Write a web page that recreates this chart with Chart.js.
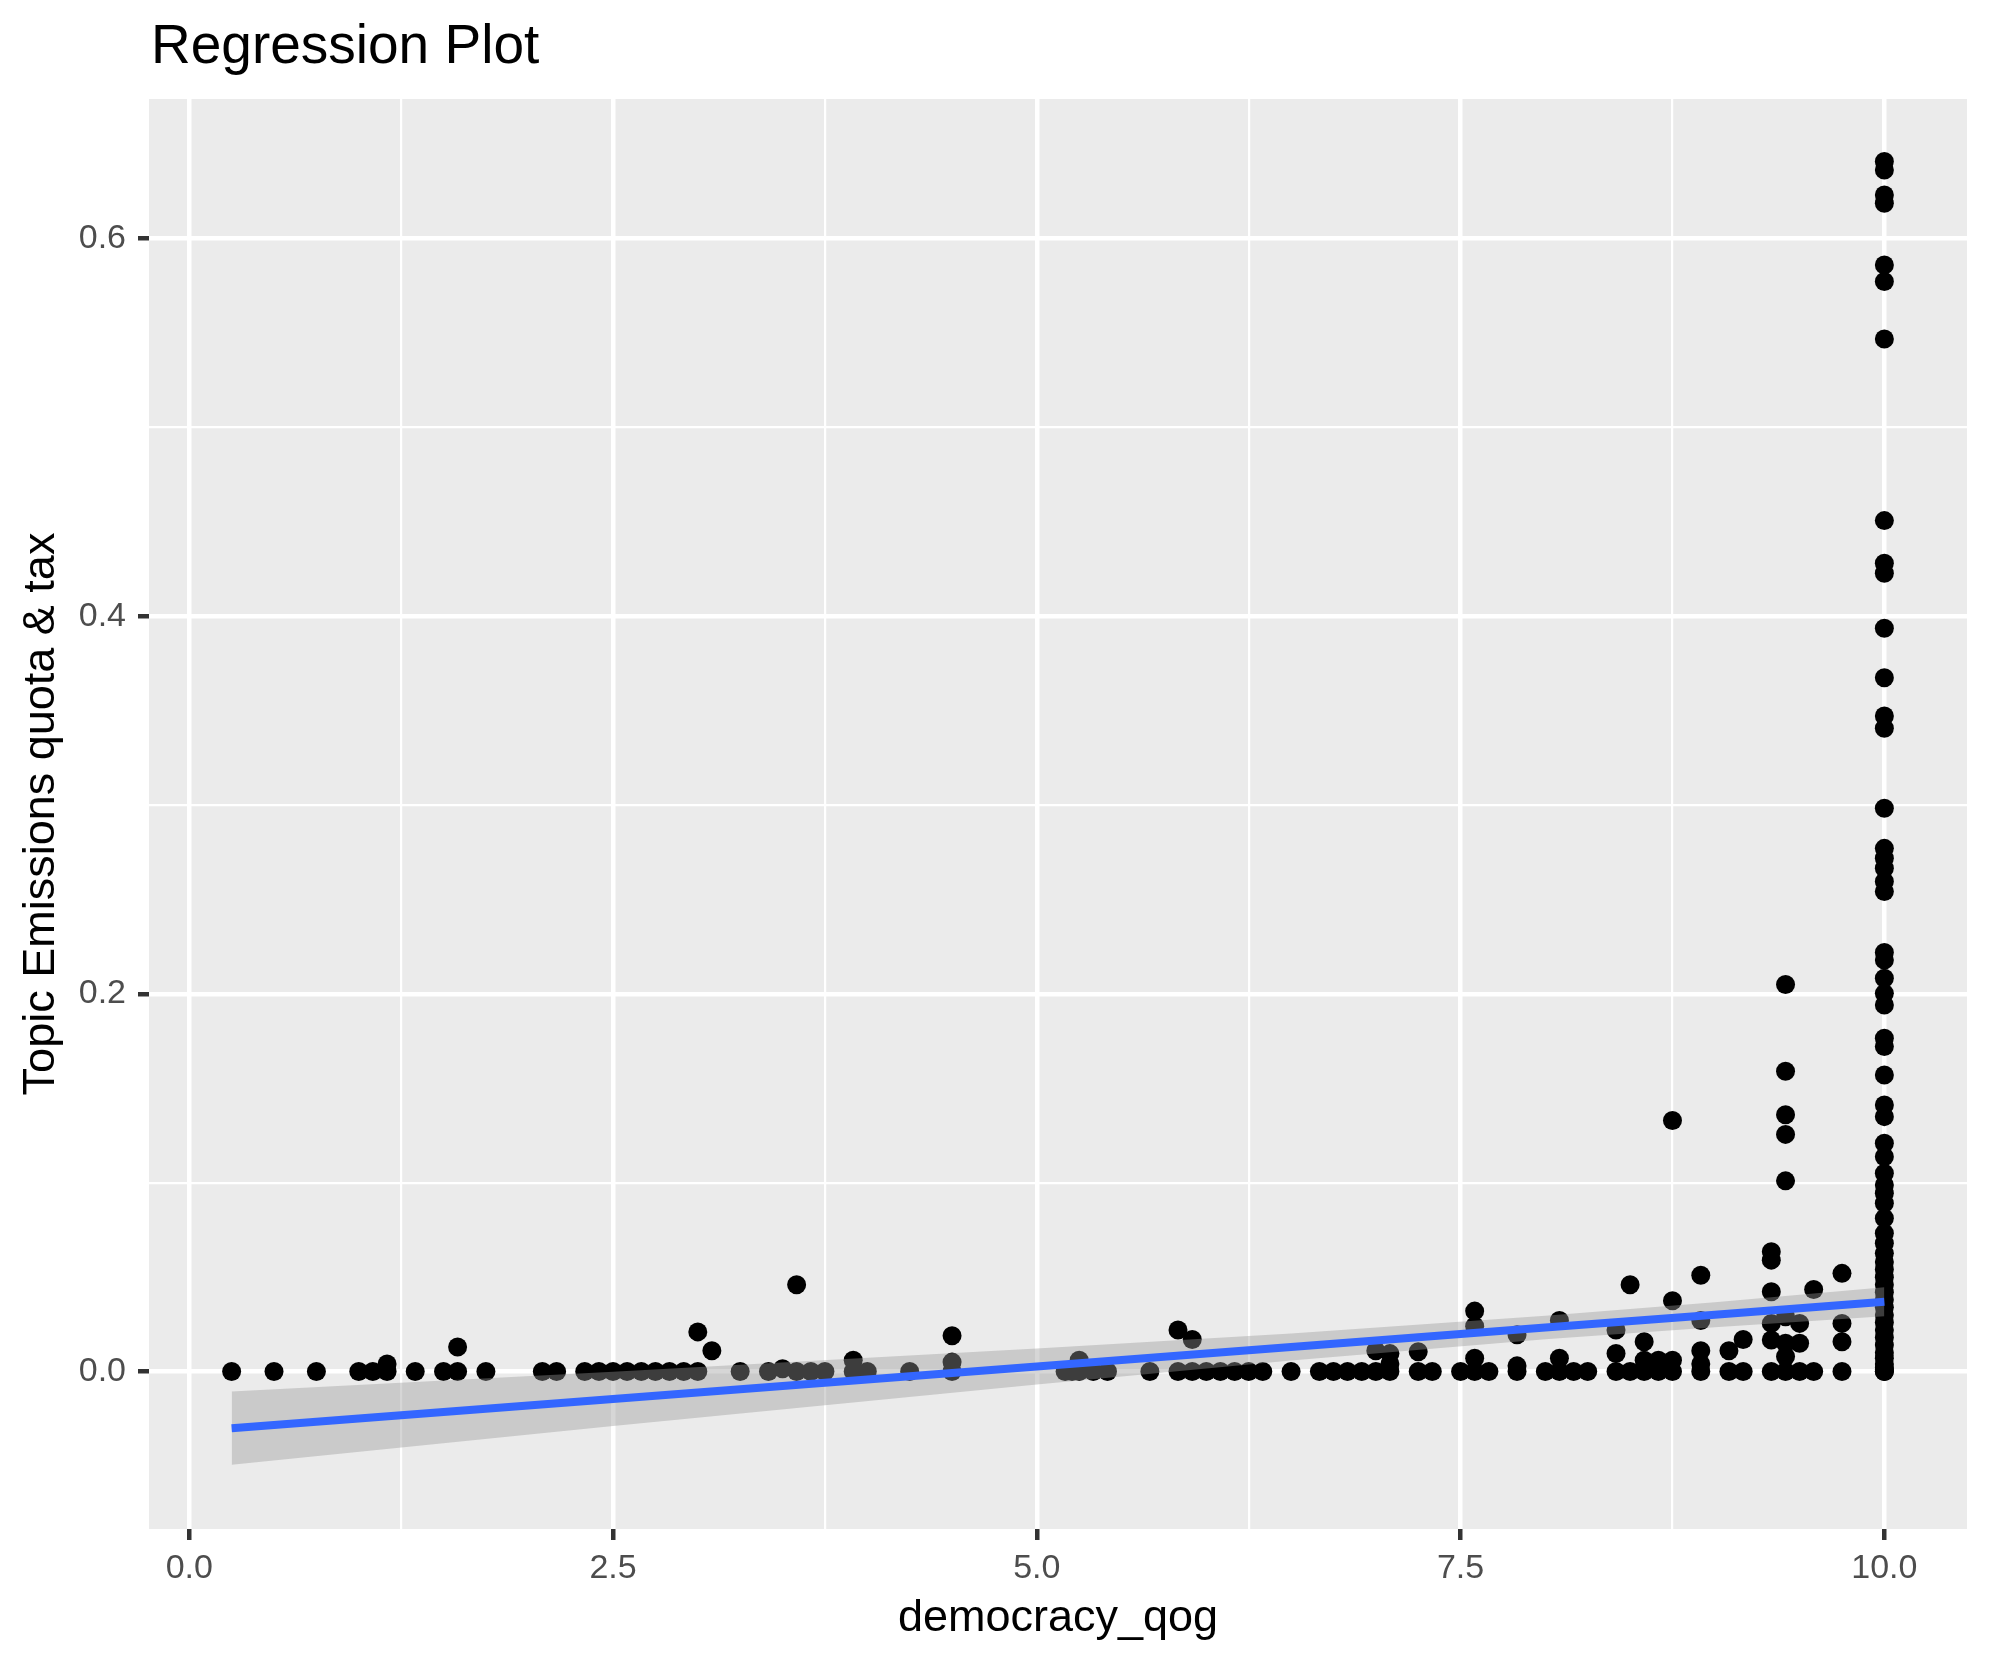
<!DOCTYPE html>
<html>
<head>
<meta charset="utf-8">
<title>Regression Plot</title>
<script src="https://cdn.jsdelivr.net/npm/chart.js@4.4.1/dist/chart.umd.min.js"></script>
<style>
  html, body { margin: 0; padding: 0; background: #ffffff; }
  #wrap { width: 1990px; height: 1665px; }
</style>
</head>
<body>
<div id="wrap"><canvas id="regChart" width="1990" height="1665"></canvas></div>
<script>
// scatter points with democracy_qog < 10, as [democracy_qog, topic share]
const sparsePoints = [
  [0.25,0],[0.5,0],[0.75,0],[1.0,0],[1.083,0],[1.167,0],[1.167,0.004],[1.333,0],[1.5,0],[1.583,0],[1.583,0.013],[1.75,0],
  [2.083,0],[2.167,0],[2.333,0],[2.417,0],[2.5,0],[2.583,0],[2.667,0],[2.75,0],[2.833,0],[2.917,0],[3.0,0],[3.0,0.021],[3.083,0.011],
  [3.25,0],[3.417,0],[3.5,0.0015],[3.583,0],[3.583,0.046],[3.667,0],[3.75,0],[3.917,0],[3.917,0.006],[4.0,0],[4.25,0],
  [4.5,0],[4.5,0.005],[4.5,0.019],
  [5.167,0],[5.208,0],[5.25,0],[5.25,0.006],[5.333,0],[5.417,0],[5.667,0],
  [5.833,0],[5.833,0.022],[5.917,0],[5.917,0.017],[6.0,0],[6.083,0],[6.167,0],[6.25,0],[6.333,0],[6.5,0],
  [6.667,0],[6.75,0],[6.833,0],[6.917,0],[7.0,0],[7.0,0.011],[7.083,0],[7.083,0.004],[7.083,0.0095],
  [7.25,0],[7.25,0.0105],[7.333,0],
  [7.5,0],[7.583,0],[7.583,0.007],[7.583,0.024],[7.583,0.032],[7.667,0],
  [7.833,0],[7.833,0.003],[7.833,0.0195],
  [8.0,0],[8.083,0],[8.083,0.007],[8.083,0.027],[8.167,0],[8.25,0],
  [8.417,0],[8.417,0.0096],[8.417,0.022],[8.5,0],[8.5,0.046],[8.583,0],[8.583,0.006],[8.583,0.0158],
  [8.667,0],[8.667,0.006],[8.75,0],[8.75,0.006],[8.75,0.0375],[8.75,0.133],
  [8.917,0],[8.917,0.004],[8.917,0.011],[8.917,0.027],[8.917,0.051],
  [9.083,0],[9.083,0.011],[9.167,0],[9.167,0.017],
  [9.333,0],[9.333,0.0167],[9.333,0.0255],[9.333,0.0423],[9.333,0.059],[9.333,0.0635],
  [9.417,0],[9.417,0.008],[9.417,0.015],[9.417,0.029],[9.417,0.101],[9.417,0.1256],[9.417,0.136],[9.417,0.159],[9.417,0.205],
  [9.5,0],[9.5,0.015],[9.5,0.0255],[9.583,0],[9.583,0.0435],
  [9.75,0],[9.75,0.0158],[9.75,0.0255],[9.75,0.052]
];

// the stack of points at democracy_qog = 10
const fullDemocracyX = 10;
const fullDemocracyY = [
  0.6409, 0.6364, 0.6232, 0.6188, 0.5861, 0.5773, 0.5469, 0.4507, 0.4281, 0.4228,
  0.3937, 0.3675, 0.3472, 0.3407, 0.2983, 0.2771, 0.2719, 0.2666, 0.2595, 0.2542,
  0.2220, 0.2180, 0.2083, 0.2003, 0.1941, 0.1765, 0.1721, 0.1571, 0.1412, 0.1350,
  0.1209, 0.1138, 0.1050, 0.0988, 0.0944, 0.0891, 0.0812, 0.0732, 0.0679, 0.0626,
  0.058, 0.054, 0.050, 0.046, 0.042, 0.038, 0.034, 0.030, 0.026, 0.022,
  0.018, 0.014, 0.010, 0.007, 0.004, 0.002, 0.001, 0, 0
];

// lm smooth: fitted line and 95% band
const bandX = [0.25, 2.5, 5, 6.5, 8, 9, 10];
const fitY = [-0.0300, -0.0145, 0.0027, 0.0130, 0.0233, 0.0301, 0.0370];
const bandLow = [-0.0494, -0.0289, -0.0068, 0.0058, 0.0171, 0.0235, 0.0293];
const bandHigh = [-0.0106, -0.0001, 0.0122, 0.0202, 0.0295, 0.0367, 0.0447];

// axis breaks
const xMajor = [0, 2.5, 5, 7.5, 10];
const xBreaks = [0, 1.25, 2.5, 3.75, 5, 6.25, 7.5, 8.75, 10];
const yMajor = [0, 0.2, 0.4, 0.6];
const yBreaks = [0, 0.1, 0.2, 0.3, 0.4, 0.5, 0.6];

const FONT = '"Liberation Sans", Arial, Helvetica, sans-serif';

const scatterData = sparsePoints.map(p => ({ x: p[0], y: p[1] }))
  .concat(fullDemocracyY.map(v => ({ x: fullDemocracyX, y: v })));
const toXY = (ys) => bandX.map((x, i) => ({ x: x, y: ys[i] }));

const panelBg = {
  id: 'panelBg',
  beforeDraw(chart) {
    const { ctx, chartArea: a } = chart;
    ctx.save();
    ctx.fillStyle = '#ffffff';
    ctx.fillRect(0, 0, chart.width, chart.height);
    ctx.fillStyle = '#EBEBEB';
    ctx.fillRect(a.left, a.top, a.right - a.left, a.bottom - a.top);
    ctx.restore();
  },
  afterDraw(chart) {
    const ctx = chart.ctx;
    ctx.save();
    ctx.fillStyle = '#000000';
    ctx.font = '55px ' + FONT;
    ctx.textBaseline = 'alphabetic';
    ctx.textAlign = 'left';
    ctx.fillText('Regression Plot', 151, 63);
    ctx.restore();
  }
};

const isMajor = (list, v) => list.some(m => Math.abs(m - v) < 1e-9);

let ctx = document.getElementById('regChart').getContext('2d');
let regChart = new Chart(ctx, {
  type: 'scatter',
  data: {
    datasets: [
      {
        label: 'points',
        data: scatterData,
        backgroundColor: '#000000',
        borderWidth: 0,
        pointRadius: 9.5,
        order: 3
      },
      {
        type: 'line',
        label: 'lower',
        data: toXY(bandLow),
        borderColor: 'rgba(0,0,0,0)',
        borderWidth: 1,
        pointRadius: 0,
        fill: false,
        order: 2
      },
      {
        type: 'line',
        label: 'upper',
        data: toXY(bandHigh),
        borderColor: 'rgba(0,0,0,0)',
        borderWidth: 1,
        pointRadius: 0,
        backgroundColor: 'rgba(153,153,153,0.4)',
        fill: '-1',
        order: 1
      },
      {
        type: 'line',
        label: 'fit',
        data: toXY(fitY),
        borderColor: '#3366FF',
        borderWidth: 8,
        pointRadius: 0,
        fill: false,
        order: 0
      }
    ]
  },
  options: {
    responsive: false,
    animation: false,
    devicePixelRatio: 1,
    layout: { padding: { top: 99, right: 23, left: 0, bottom: 0 } },
    plugins: {
      legend: { display: false },
      tooltip: { enabled: false },
      title: { display: false }
    },
    scales: {
      x: {
        type: 'linear',
        min: -0.2375,
        max: 10.4875,
        afterBuildTicks: (scale) => { scale.ticks = xBreaks.map(v => ({ value: v })); },
        afterFit: (scale) => { scale.height = 136; },
        border: { display: false },
        grid: {
          color: '#ffffff',
          lineWidth: (c) => (c.tick && isMajor(xMajor, c.tick.value)) ? 4.5 : 2.2,
          tickColor: (c) => (c.tick && isMajor(xMajor, c.tick.value)) ? '#333333' : 'rgba(0,0,0,0)',
          tickWidth: 4.5,
          tickLength: 11
        },
        ticks: {
          autoSkip: false,
          maxRotation: 0,
          padding: 8,
          color: '#4D4D4D',
          font: { family: FONT, size: 34 },
          callback: (v) => isMajor(xMajor, v) ? v.toFixed(1) : ''
        },
        title: {
          display: true,
          text: 'democracy_qog',
          color: '#000000',
          font: { family: FONT, size: 45 },
          padding: { top: 0, bottom: 19 }
        }
      },
      y: {
        type: 'linear',
        min: -0.0834,
        max: 0.674,
        afterBuildTicks: (scale) => { scale.ticks = yBreaks.map(v => ({ value: v })); },
        afterFit: (scale) => { scale.width = 149; },
        border: { display: false },
        grid: {
          color: '#ffffff',
          lineWidth: (c) => (c.tick && isMajor(yMajor, c.tick.value)) ? 4.5 : 2.2,
          tickColor: (c) => (c.tick && isMajor(yMajor, c.tick.value)) ? '#333333' : 'rgba(0,0,0,0)',
          tickWidth: 4.5,
          tickLength: 11
        },
        ticks: {
          autoSkip: false,
          padding: 12,
          color: '#4D4D4D',
          font: { family: FONT, size: 34 },
          callback: (v) => isMajor(yMajor, v) ? v.toFixed(1) : ''
        },
        title: {
          display: true,
          text: 'Topic Emissions quota & tax',
          color: '#000000',
          font: { family: FONT, size: 45 },
          padding: { top: 15, bottom: 0 }
        }
      }
    }
  },
  plugins: [panelBg]
});
</script>
</body>
</html>
